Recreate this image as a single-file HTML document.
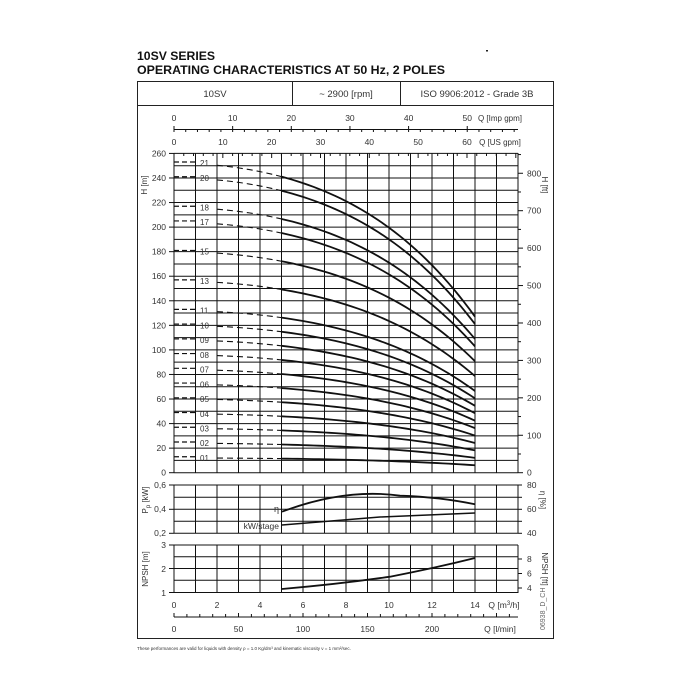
<!DOCTYPE html>
<html><head><meta charset="utf-8"><style>
body{margin:0;background:#fff}
svg{display:block;font-family:"Liberation Sans",sans-serif}
text{fill:#333}
</style></head><body>
<svg id="s" width="700" height="700" viewBox="0 0 700 700" xmlns="http://www.w3.org/2000/svg">
<rect width="700" height="700" fill="#fff"/>
<text x="137" y="60" font-size="11.5" font-weight="bold" style="fill:#111" textLength="78" lengthAdjust="spacingAndGlyphs">10SV SERIES</text>
<text x="137" y="74" font-size="11.5" font-weight="bold" style="fill:#111" textLength="308" lengthAdjust="spacingAndGlyphs">OPERATING CHARACTERISTICS AT 50 Hz, 2 POLES</text>
<rect x="486" y="50" width="2" height="1.5" fill="#222"/>
<rect x="137.5" y="81.5" width="416" height="557" fill="none" stroke="#222" stroke-width="1"/>
<line x1="137" y1="105.5" x2="554" y2="105.5" stroke="#222"/>
<line x1="292.5" y1="81" x2="292.5" y2="105" stroke="#222"/>
<line x1="400.5" y1="81" x2="400.5" y2="105" stroke="#222"/>
<text x="215" y="97" font-size="9.5" text-anchor="middle">10SV</text>
<text x="346" y="97" font-size="9.5" text-anchor="middle">~ 2900 [rpm]</text>
<text x="477" y="97" font-size="9.5" text-anchor="middle">ISO 9906:2012 - Grade 3B</text>
<text x="545" y="630" font-size="7" transform="rotate(-90 545 630)" style="fill:#666">06938_D_CH</text>
<text x="137" y="650" font-size="4.5" style="fill:#333">These performances are valid for liquids with density ρ = 1.0 Kg/dm³ and kinematic viscosity ν = 1 mm²/sec.</text>
<g id="g"></g>
</svg>
<script>
var g=document.getElementById('g'),o='';
var X=function(q){return 174+q*21.5;};
var Y=function(h){return 472.7-h*1.228;};
function L(x1,y1,x2,y2,w,extra){o+='<line x1="'+x1+'" y1="'+y1+'" x2="'+x2+'" y2="'+y2+'" stroke="#111" stroke-width="'+(w||1)+'" '+(extra||'')+'/>';}
function T(x,y,s,a,fs,ex){o+='<text x="'+x+'" y="'+y+'" font-size="'+(fs||8.5)+'" text-anchor="'+(a||'middle')+'" '+(ex||'')+'>'+s+'</text>';}
for(var k=0;k<=16;k++){var x=X(k);L(x,153,x,473,1);L(x,485,x,533,1);L(x,545,x,593,1);}
for(var h=0;h<=260;h+=10){L(174,Y(h),518,Y(h),1);}
for(var h=0;h<=260;h+=20){L(169,Y(h),174,Y(h),1);T(166,Y(h)+3,h,'end');}
for(var f=0;f<=850;f+=50){var y=Y(f*0.3048);L(518,y,f%100?521:523,y,1);}
for(var f=0;f<=800;f+=100){T(527,Y(f*0.3048)+3,f,'start');}
T(147,185,'H [m]','middle',8,'transform="rotate(-90 147 185)"');
T(542,185,'H [ft]','middle',8,'transform="rotate(90 542 185)"');
L(174,129.5,518,129.5,1);
for(var gp=0;gp<=58;gp+=2){var x=X(gp/3.666);L(x,gp%10?129:126,x,132,1);}
for(var gp=0;gp<=50;gp+=10){T(X(gp/3.666),121,gp);}
T(500,121,'Q [Imp gpm]','middle',8);
for(var gp=0;gp<=70;gp+=2){var x=X(gp/4.403);if(x<=519)L(x,153,x,gp%10?156:158,1);}
for(var gp=0;gp<=60;gp+=10){T(X(gp/4.403),145,gp);}
T(500,145,'Q [US gpm]','middle',8);
function H(q){return 12-0.0194*q*q-5.59e-5*Math.pow(q,4);}
var st=[1,2,3,4,5,6,7,8,9,10,11,13,15,17,18,20,21];
st.forEach(function(n){
 var y0=Y(12*n+1);
 L(174,y0,195,y0,1.2,'stroke-dasharray="5,3"');
 T(200,Y(12*n)+3,(n<10?'0':'')+n,'start',8);
 var d='M'+X(2)+' '+Y(H(2)*n);for(var q=2.25;q<=5.001;q+=0.25)d+=' L'+X(q)+' '+Y(H(q)*n);
 o+='<path d="'+d+'" fill="none" stroke="#111" stroke-width="1.1" stroke-dasharray="6,4"/>';
 d='M'+X(5)+' '+Y(H(5)*n);for(var q=5.25;q<=14.001;q+=0.25)d+=' L'+X(q)+' '+Y(H(q)*n);
 o+='<path d="'+d+'" fill="none" stroke="#111" stroke-width="1.8"/>';
});
[485,497.3,509.3,521.3,533.3].forEach(function(y){L(174,y,518,y,1);});
L(169,485,174,485);L(169,509.3,174,509.3);L(169,533.3,174,533.3);
T(166,488,'0,6','end');T(166,512,'0,4','end');T(166,536,'0,2','end');
[485,497.3,509.3,521.3,533.3].forEach(function(y,i){L(518,y,522,y);});
T(527,488,'80','start');T(527,512,'60','start');T(527,536,'40','start');
T(148,500,'P<tspan font-size="6" dy="2">p</tspan><tspan dy="-2"> [kW]</tspan>','middle',8,'transform="rotate(-90 148 500)"');
T(540,500,'η [%]','middle',8,'transform="rotate(90 540 500)"');
o+='<path d="M282 511.7 Q345 488 400 495.7 Q440 497 475 504.3" fill="none" stroke="#111" stroke-width="1.8"/>';
o+='<path d="M282 525 L380 517 L475 513" fill="none" stroke="#111" stroke-width="1.5"/>';
T(279,512,'η','end',9);T(279,529,'kW/stage','end',8.5);
[545,556.8,568.5,580.3,592.5].forEach(function(y){L(174,y,518,y,1);});
L(169,545,174,545);L(169,568.5,174,568.5);L(169,592.5,174,592.5);
T(166,548,'3','end');T(166,572,'2','end');T(166,596,'1','end');
[[4,588],[6,573.5],[8,559]].forEach(function(a){L(518,a[1],522,a[1]);T(527,a[1]+3,a[0],'start');});
T(148,569,'NPSH [m]','middle',8,'transform="rotate(-90 148 569)"');
T(542,569,'NPSH [ft]','middle',8,'transform="rotate(90 542 569)"');
o+='<path d="M282 589 Q340 584 390 576.7 Q435 568 475 558" fill="none" stroke="#111" stroke-width="1.8"/>';
for(var q=0;q<=14;q+=2)T(X(q),608,q);
T(504,608,'Q [m<tspan font-size="6" dy="-3">3</tspan><tspan dy="3">/h]</tspan>','middle',8.5);
L(174,617,518,617,1);
for(var l=0;l<=260;l+=10){var x=X(l/16.667);if(x<=519)L(x,l%50?614:613,x,617,1);}
for(var l=0;l<=200;l+=50)T(X(l/16.667),632,l);
T(500,632,'Q [l/min]','middle',8.5);
g.innerHTML=o;
</script>
</body></html>
